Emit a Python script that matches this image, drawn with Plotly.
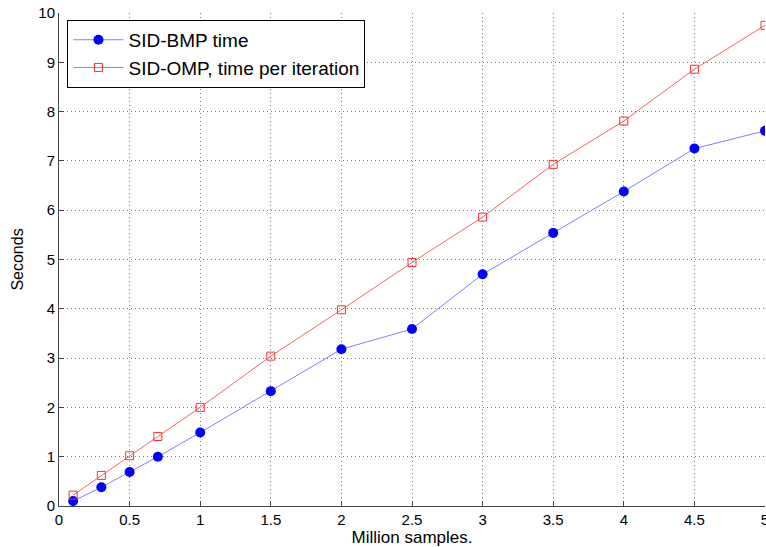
import plotly.graph_objects as go

x_vals = [0.1, 0.3, 0.5, 0.7, 1, 1.5, 2, 2.5, 3, 3.5, 4, 4.5, 5]
bmp_time = [0.1, 0.38, 0.69, 1.0, 1.49, 2.33, 3.18, 3.59, 4.7, 5.54, 6.38, 7.25, 7.61]
omp_time = [0.22, 0.62, 1.02, 1.41, 2.0, 3.04, 3.98, 4.94, 5.86, 6.93, 7.81, 8.86, 9.75]
x_ticks = [0, 0.5, 1, 1.5, 2, 2.5, 3, 3.5, 4, 4.5, 5]
x_tick_text = ["0", "0.5", "1", "1.5", "2", "2.5", "3", "3.5", "4", "4.5", "5"]
y_ticks = list(range(0, 11))

fig = go.Figure()
fig.add_trace(go.Scatter(
    x=x_vals, y=bmp_time, mode="lines+markers", name="SID-BMP time",
    line=dict(color="#7f7fff", width=1),
    marker=dict(symbol="circle", size=10, color="#0000ff", line=dict(width=0)),
))
fig.add_trace(go.Scatter(
    x=x_vals, y=omp_time, mode="lines+markers", name="SID-OMP, time per iteration",
    line=dict(color="#ff6060", width=1),
    marker=dict(symbol="square-open", size=8, color="#ff3030", line=dict(width=1)),
))

fig.update_layout(
    width=766, height=547,
    margin=dict(l=59, r=1, t=13, b=41, autoexpand=False),
    paper_bgcolor="white", plot_bgcolor="white",
    font=dict(family="Liberation Sans, Arial, sans-serif", size=15, color="black"),
    showlegend=True,
    legend=dict(
        x=0.012, y=0.986, xanchor="left", yanchor="top",
        bgcolor="white", bordercolor="black", borderwidth=1,
        font=dict(size=19), itemwidth=50, tracegroupgap=0,
    ),
    xaxis=dict(
        range=[0, 5], tickvals=x_ticks, ticktext=x_tick_text,
        showgrid=True, gridcolor="#777777", griddash="1px,3px", gridwidth=1,
        showline=True, linecolor="#444444", linewidth=1,
        ticks="inside", ticklen=5, tickcolor="#444444",
        zeroline=False, tickfont=dict(size=15), automargin=False,
        ticklabeloverflow="allow",
        title=dict(text="Million samples.", font=dict(size=17), standoff=2),
    ),
    yaxis=dict(
        range=[0, 10], tickvals=y_ticks,
        showgrid=True, gridcolor="#777777", griddash="1px,3px", gridwidth=1,
        showline=True, linecolor="#444444", linewidth=1,
        ticks="inside", ticklen=5, tickcolor="#444444",
        zeroline=False, tickfont=dict(size=15), automargin=False,
        ticklabeloverflow="allow",
        title=dict(text="Seconds", font=dict(size=16), standoff=10),
    ),
)

fig.write_html(
    "out.html",
    config={"displayModeBar": False},
    post_script="document.body.style.margin='0';document.body.style.overflow='hidden';",
)
